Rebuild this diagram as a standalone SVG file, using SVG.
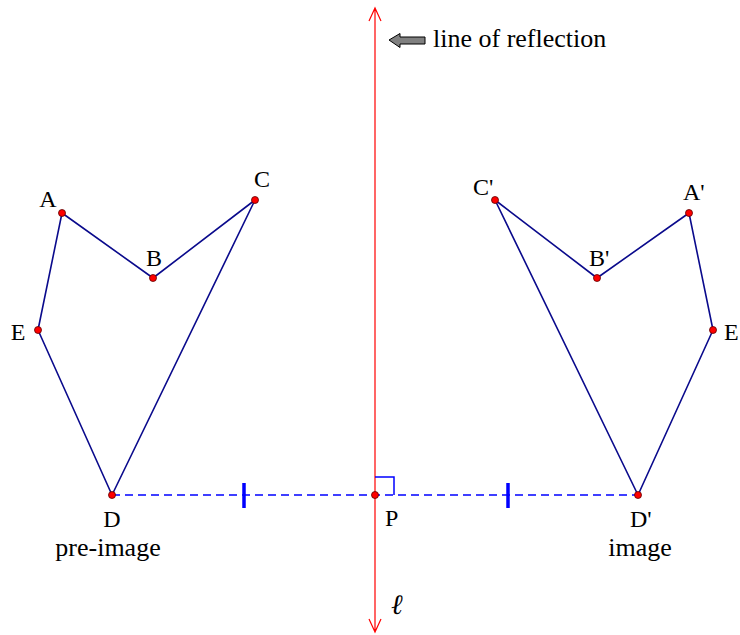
<svg xmlns="http://www.w3.org/2000/svg" width="740" height="635" viewBox="0 0 740 635">
<style>
text{font-family:"Liberation Serif","Times New Roman",serif;font-size:24px;fill:#000}
text.w{font-size:26px}
.poly{fill:none;stroke:#0a0a8c;stroke-width:1.6;stroke-linejoin:round}
.pt{fill:#ff0000;stroke:#5a0000;stroke-width:0.8}
.mirror{stroke:#ff0000;stroke-width:1.2;fill:none}
.dash{stroke:#0000ff;stroke-width:1.5;stroke-dasharray:8 5;fill:none}
.tick{stroke:#0000ff;stroke-width:3.5;fill:none}
</style>
<rect width="740" height="635" fill="#ffffff"/>
<g id="connectors">
<path class="mirror" d="M375 8V632M369 21L375 8L381 21M369 619L375 632L381 619"/>
<path class="dash" d="M112 495H638"/>
<path class="tick" d="M244 483V508M508 483V508"/>
<path d="M375 477H394V495" fill="none" stroke="#0000ff" stroke-width="1.5"/>
</g>
<g id="preimage">
<polygon class="poly" points="62,213 153,278 255,200 112,495 38,330"/>
</g>
<g id="image">
<polygon class="poly" points="689,213 597,278 495,200 638,495 713,330"/>
</g>
<g id="points">
<circle class="pt" cx="62" cy="213" r="3.5"/>
<circle class="pt" cx="153" cy="278" r="3.5"/>
<circle class="pt" cx="255" cy="200" r="3.5"/>
<circle class="pt" cx="38" cy="330" r="3.5"/>
<circle class="pt" cx="112" cy="495" r="3.5"/>
<circle class="pt" cx="689" cy="213" r="3.5"/>
<circle class="pt" cx="597" cy="278" r="3.5"/>
<circle class="pt" cx="495" cy="200" r="3.5"/>
<circle class="pt" cx="713" cy="330" r="3.5"/>
<circle class="pt" cx="638" cy="495" r="3.5"/>
<circle class="pt" cx="375" cy="495" r="3.5"/>
</g>
<g id="legend">
<path d="M389 40L400 33.5V37H425V44H400V47.5Z" fill="#808080" stroke="#000" stroke-width="1"/>
<text class="w" x="433" y="47">line of reflection</text>
</g>
<g id="labels">
<text x="48" y="207" text-anchor="middle">A</text>
<text x="154" y="266" text-anchor="middle">B</text>
<text x="262" y="187" text-anchor="middle">C</text>
<text x="18" y="340" text-anchor="middle">E</text>
<text x="112" y="527" text-anchor="middle">D</text>
<text class="w" x="108" y="556" text-anchor="middle">pre-image</text>
<text x="473" y="195">C'</text>
<text x="683" y="200">A'</text>
<text x="589" y="266">B'</text>
<text x="724" y="340">E</text>
<text x="630" y="527">D'</text>
<text class="w" x="640" y="556" text-anchor="middle">image</text>
<text x="385" y="526">P</text>
<text x="391" y="614" font-style="italic" style="font-size:28px">ℓ</text>
</g>
</svg>
